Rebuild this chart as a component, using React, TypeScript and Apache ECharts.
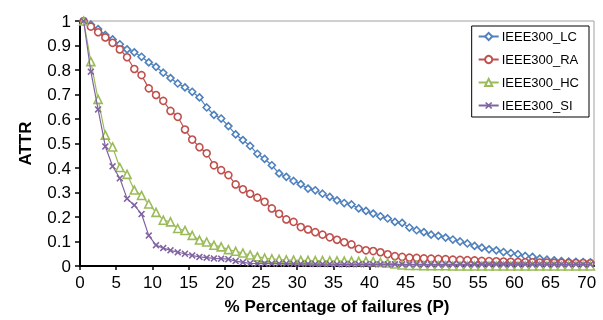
import React, { useEffect, useRef } from "react";
import * as echarts from "echarts";

// Category positions (failure percentage bins)
const xTickValues = [0, 5, 10, 15, 20, 25, 30, 35, 40, 45, 50, 55, 60, 65, 70];

const LC = [1.0, 0.985, 0.967, 0.943, 0.925, 0.905, 0.884, 0.872, 0.854, 0.831, 0.813, 0.789, 0.767, 0.745, 0.729, 0.711, 0.688, 0.647, 0.617, 0.602, 0.571, 0.537, 0.514, 0.49, 0.458, 0.437, 0.411, 0.378, 0.364, 0.347, 0.334, 0.316, 0.309, 0.295, 0.282, 0.268, 0.257, 0.251, 0.235, 0.225, 0.214, 0.203, 0.194, 0.18, 0.176, 0.157, 0.146, 0.138, 0.128, 0.123, 0.116, 0.108, 0.1, 0.092, 0.082, 0.075, 0.068, 0.064, 0.057, 0.053, 0.048, 0.041, 0.037, 0.03, 0.026, 0.023, 0.02, 0.018, 0.017, 0.016, 0.015];
const RA = [1.0, 0.977, 0.954, 0.933, 0.911, 0.884, 0.852, 0.804, 0.779, 0.725, 0.698, 0.674, 0.633, 0.609, 0.557, 0.516, 0.485, 0.46, 0.411, 0.391, 0.371, 0.333, 0.313, 0.295, 0.279, 0.262, 0.235, 0.213, 0.19, 0.18, 0.159, 0.149, 0.138, 0.128, 0.117, 0.107, 0.097, 0.088, 0.07, 0.064, 0.061, 0.056, 0.048, 0.04, 0.037, 0.034, 0.033, 0.031, 0.03, 0.029, 0.028, 0.026, 0.025, 0.024, 0.023, 0.021, 0.02, 0.019, 0.018, 0.017, 0.016, 0.015, 0.015, 0.014, 0.014, 0.013, 0.013, 0.012, 0.012, 0.012, 0.011];
const HC = [1.0, 0.834, 0.68, 0.534, 0.486, 0.402, 0.374, 0.31, 0.288, 0.253, 0.219, 0.187, 0.18, 0.153, 0.145, 0.125, 0.106, 0.098, 0.085, 0.078, 0.067, 0.06, 0.053, 0.045, 0.038, 0.032, 0.029, 0.027, 0.025, 0.024, 0.023, 0.023, 0.022, 0.022, 0.021, 0.021, 0.02, 0.02, 0.019, 0.019, 0.018, 0.015, 0.012, 0.008, 0.004, 0.002, 0.002, 0.001, 0.001, 0.001, 0.001, 0, 0, 0, 0, 0, 0, 0, 0, 0, 0, 0, 0, 0, 0, 0, 0, 0, 0, 0, 0];
const SI = [1.0, 0.793, 0.639, 0.488, 0.407, 0.358, 0.275, 0.248, 0.212, 0.124, 0.085, 0.073, 0.064, 0.056, 0.05, 0.043, 0.037, 0.034, 0.031, 0.03, 0.028, 0.02, 0.015, 0.011, 0.01, 0.01, 0.01, 0.01, 0.01, 0.009, 0.009, 0.009, 0.008, 0.008, 0.008, 0.007, 0.007, 0.007, 0.007, 0.007, 0.007, 0.007, 0.007, 0.007, 0.007, 0.007, 0.007, 0.007, 0.007, 0.007, 0.007, 0.007, 0.007, 0.007, 0.007, 0.007, 0.007, 0.007, 0.007, 0.007, 0.007, 0.007, 0.007, 0.007, 0.007, 0.007, 0.007, 0.007, 0.007, 0.007, 0.007];

const seriesNames = ["IEEE300_LC", "IEEE300_RA", "IEEE300_HC", "IEEE300_SI"];
const yTickValues = [0, 0.1, 0.2, 0.3, 0.4, 0.5, 0.6, 0.7, 0.8, 0.9, 1];

const FONT = "'Liberation Sans', Arial, sans-serif";
const X_SYMBOL =
  "path://M0,1.6L1.6,0L5,3.4L8.4,0L10,1.6L6.6,5L10,8.4L8.4,10L5,6.6L1.6,10L0,8.4L3.4,5Z";

function toPoints(vals: number[]) {
  // points sit at the centre of each 1-% bin
  return vals.map((v, i) => [i + 0.5, v]);
}

export default function App() {
  const ref = useRef<HTMLDivElement>(null);
  useEffect(() => {
    if (!ref.current) return;
    const chart = echarts.init(ref.current, null, { renderer: "svg" });
    const colors = ["#4F81BD", "#C0504D", "#9BBB59", "#8064A2"];
    const symbols = ["diamond", "circle", "triangle", X_SYMBOL];
    const sizes = [7, 7, 8, 7];
    const data = [LC, RA, HC, SI];
    chart.setOption({
      animation: false,
      textStyle: { fontFamily: FONT },
      grid: {
        left: 80,
        right: 9,
        top: 21,
        bottom: 54,
        show: true,
        borderColor: "#a0a0a0",
        borderWidth: 1,
      },
      legend: {
        orient: "vertical",
        right: 14,
        top: 26,
        padding: [4, 10, 5, 6],
        itemGap: 10,
        itemWidth: 20,
        itemHeight: 9,
        borderColor: "#000",
        borderWidth: 1,
        backgroundColor: "#fff",
        textStyle: { fontFamily: FONT, fontSize: 13, color: "#000", padding: [0, 0, 0, -2] },
        data: seriesNames,
      },
      xAxis: {
        type: "value",
        min: 0,
        max: 71,
        interval: 5,
        name: "% Percentage of failures (P)",
        nameLocation: "middle",
        nameGap: 32,
        nameTextStyle: { fontFamily: FONT, fontSize: 17, fontWeight: "bold", color: "#000" },
        axisLine: { show: true, onZero: false, lineStyle: { color: "#000", width: 2 } },
        axisTick: { show: true, length: 4, lineStyle: { color: "#000", width: 1.5 }, customValues: xTickValues },
        axisLabel: { fontFamily: FONT, fontSize: 17, color: "#000", margin: 8, customValues: xTickValues },
        splitLine: { show: false },
      },
      yAxis: {
        type: "value",
        min: 0,
        max: 1,
        interval: 0.1,
        name: "ATTR",
        nameLocation: "middle",
        nameGap: 46,
        nameRotate: 90,
        nameTextStyle: { fontFamily: FONT, fontSize: 17, fontWeight: "bold", color: "#000" },
        axisLine: { show: true, lineStyle: { color: "#000", width: 2 } },
        axisTick: { show: true, length: 5, lineStyle: { color: "#000", width: 1.5 }, customValues: yTickValues },
        axisLabel: {
          fontFamily: FONT,
          fontSize: 17,
          color: "#000",
          margin: 9,
          customValues: yTickValues,
          formatter: (v: number) => String(Math.round(v * 10) / 10),
        },
        splitLine: { show: false },
      },
      series: data.map((vals, k) => ({
        name: seriesNames[k],
        type: "line",
        data: toPoints(vals),
        symbol: symbols[k],
        symbolSize: sizes[k],
        showAllSymbol: true,
        color: colors[k],
        lineStyle: { color: colors[k], width: 1.2 },
        itemStyle:
          k === 3
            ? { color: colors[k], borderWidth: 0 }
            : { color: "#fff", borderColor: colors[k], borderWidth: 1.6 },
        z: 2 + k,
      })),
    });
    return () => chart.dispose();
  }, []);
  return (
    <div
      ref={ref}
      style={{ position: "fixed", left: 0, top: 0, width: 603, height: 320 }}
    />
  );
}
